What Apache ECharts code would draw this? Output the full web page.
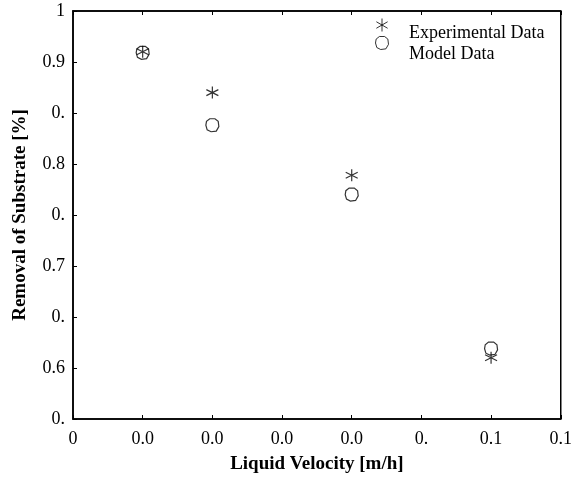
<!DOCTYPE html>
<html><head><meta charset="utf-8">
<script src="https://cdn.jsdelivr.net/npm/echarts@6/dist/echarts.min.js"></script>
<style>html,body{margin:0;padding:0;background:#fff}#c{width:575px;height:479px}</style>
</head><body><div id="c"></div>
<script>
const velocity = [0.02, 0.04, 0.08, 0.12];
const experimental = [0.96, 0.92, 0.839, 0.66];
const model = [0.959, 0.888, 0.82, 0.669];
const xTickLabels = ['0','0.0','0.0','0.0','0.0','0.','0.1','0.1'];
const yTickLabels = ['0.','0.6','0.','0.7','0.','0.8','0.','0.9','1'];
const seriesNames = ['Experimental Data', 'Model Data'];

const FONT = '"Liberation Serif", "DejaVu Serif", serif';
const starPath = 'path://M0,-6L0,6M-5.2,-3L5.2,3M-5.2,3L5.2,-3';
const circPath = 'path://M-2,-5L2,-5L4.5,-3L5,1L3,4.5L-1,5L-4,3.5L-5,0L-4.5,-3Z';

const chart = echarts.init(document.getElementById('c'));
chart.setOption({
  animation: false,
  backgroundColor: '#fff',
  grid: {left: 73, right: 14, top: 11, bottom: 57, show: true, borderColor: '#000', borderWidth: 1.5},
  legend: [{
    orient: 'vertical', left: 375, top: 18, padding: 0, itemGap: 4, itemWidth: 14, itemHeight: 13,
    formatter: () => '', selectedMode: false,
    itemStyle: {color: 'transparent', borderColor: '#000', borderWidth: 1},
    data: [
      {name: seriesNames[0], icon: starPath},
      {name: seriesNames[1], icon: circPath}
    ]
  }, {
    orient: 'vertical', left: 399, top: 23, padding: 0, itemGap: 1, itemWidth: 0, itemHeight: 0,
    selectedMode: false, icon: 'circle',
    textStyle: {fontFamily: FONT, fontSize: 18, lineHeight: 20, color: '#000', padding: [0,0,0,4]},
    data: seriesNames
  }],
  xAxis: [{
    type: 'value', min: 0, max: 0.14, interval: 0.02, position: 'bottom',
    name: 'Liquid Velocity [m/h]', nameLocation: 'middle', nameGap: 36,
    nameTextStyle: {fontFamily: FONT, fontSize: 19, fontWeight: 'bold', color: '#000'},
    axisLine: {lineStyle: {color: '#000', width: 1.5}},
    axisTick: {inside: true, length: 4, lineStyle: {color: '#000'}},
    axisLabel: {fontFamily: FONT, fontSize: 18, color: '#000', margin: 11,
      formatter: v => xTickLabels[Math.round(v / 0.02)]},
    splitLine: {show: false}
  }, {
    type: 'value', min: 0, max: 0.14, interval: 0.02, position: 'top',
    axisLine: {lineStyle: {color: '#000', width: 1.5}},
    axisTick: {inside: true, length: 4, lineStyle: {color: '#000'}},
    axisLabel: {show: false}, splitLine: {show: false}
  }],
  yAxis: {
    type: 'value', min: 0.6, max: 1, interval: 0.05,
    name: 'Removal of Substrate [%]', nameLocation: 'middle', nameGap: 43,
    nameTextStyle: {fontFamily: FONT, fontSize: 19, fontWeight: 'bold', color: '#000'},
    axisLine: {lineStyle: {color: '#000', width: 1.5}},
    axisTick: {inside: true, length: 4, lineStyle: {color: '#000'}},
    axisLabel: {fontFamily: FONT, fontSize: 18, color: '#000', margin: 8,
      formatter: v => yTickLabels[Math.round((v - 0.6) / 0.05)]},
    splitLine: {show: false}
  },
  series: [{
    name: seriesNames[0], type: 'scatter',
    data: velocity.map((x, i) => [x, experimental[i]]),
    symbol: starPath, symbolSize: 12,
    itemStyle: {color: 'transparent', borderColor: '#000', borderWidth: 1.2},
    z: 3
  }, {
    name: seriesNames[1], type: 'scatter',
    data: velocity.map((x, i) => [x, model[i]]),
    symbol: circPath, symbolSize: 13,
    itemStyle: {color: 'transparent', borderColor: '#000', borderWidth: 1.2},
    z: 2
  }]
});
</script></body></html>
